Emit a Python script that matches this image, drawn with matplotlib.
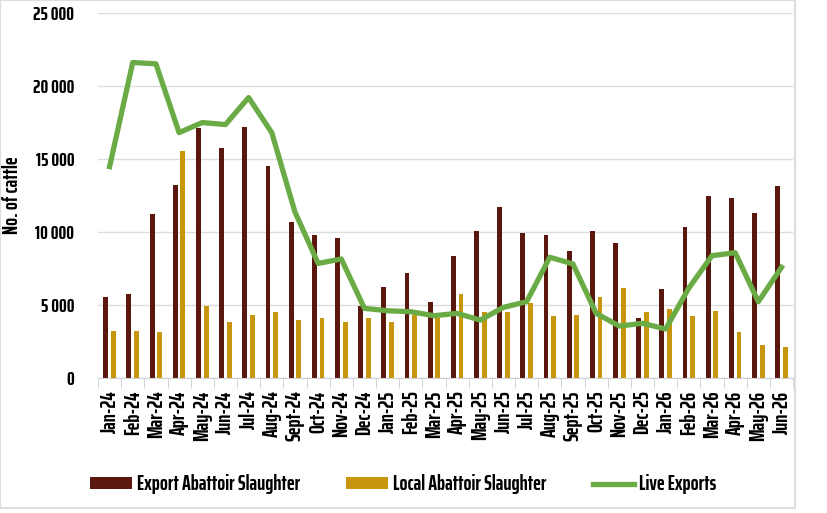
import matplotlib.pyplot as plt
import numpy as np
from matplotlib.patches import Rectangle
from matplotlib.ticker import FuncFormatter

plt.rcParams['font.family'] = ['Saira ExtraCondensed', 'Saira Condensed', 'Barlow Condensed',
                               'Roboto Condensed', 'Oswald', 'DejaVu Sans']
plt.rcParams['font.weight'] = 'bold'
plt.rcParams['axes.labelweight'] = 'bold'

months = ['Jan-24', 'Feb-24', 'Mar-24', 'Apr-24', 'May-24', 'Jun-24', 'Jul-24', 'Aug-24',
          'Sept-24', 'Oct-24', 'Nov-24', 'Dec-24', 'Jan-25', 'Feb-25', 'Mar-25', 'Apr-25',
          'May-25', 'Jun-25', 'Jul-25', 'Aug-25', 'Sept-25', 'Oct-25', 'Nov-25', 'Dec-25',
          'Jan-26', 'Feb-26', 'Mar-26', 'Apr-26', 'May-26', 'Jun-26']

export_abattoir = [5550, 5750, 11230, 13220, 17150, 15750, 17210, 14520, 10680, 9790,
                   9590, 4900, 6250, 7210, 5230, 8360, 10070, 11710, 9930, 9790,
                   8700, 10070, 9250, 4110, 6100, 10340, 12470, 12330, 11300, 13150]

local_abattoir = [3220, 3200, 3150, 15570, 4950, 3810, 4310, 4500, 3970, 4130,
                  3840, 4090, 3810, 4300, 4100, 5730, 4540, 4520, 5110, 4220,
                  4290, 5550, 6160, 4500, 4700, 4220, 4590, 3130, 2240, 2150]

live_exports = [14470, 21600, 21510, 16800, 17490, 17350, 19200, 16800, 11370, 7850,
                8150, 4770, 4610, 4540, 4270, 4430, 3970, 4840, 5230, 8270,
                7810, 4430, 3560, 3750, 3360, 6160, 8380, 8580, 5230, 7580]

x = np.arange(len(months))
w = 0.21

fig = plt.figure(figsize=(8.27, 5.13), dpi=100)
ax = fig.add_axes([0.1185, 0.263, 0.8405, 0.712])

b1 = ax.bar(x - w / 2 - 0.06, export_abattoir, w, color='#5a170d', zorder=2)
b2 = ax.bar(x + w / 2 + 0.06, local_abattoir, w, color='#c8960c', zorder=2)
l1, = ax.plot(x, live_exports, color='#6aab46', linewidth=3.8, zorder=3)

ax.set_xlim(-0.5, len(months) - 0.5)
ax.set_ylim(0, 25000)
ax.set_yticks(np.arange(0, 25001, 5000))
ax.yaxis.set_major_formatter(FuncFormatter(lambda v, p: '{:,}'.format(int(v)).replace(',', ' ')))
ax.grid(axis='y', color='#dcdcdc', linewidth=1)
ax.set_axisbelow(True)

ax.set_xticks(x)
ax.set_xticklabels(months, rotation=90, fontsize=15)
ax.set_xticks(np.arange(-0.5, len(months), 1), minor=True)
ax.tick_params(axis='x', which='major', length=0, pad=9)
ax.tick_params(axis='x', which='minor', length=7, color='#d0d0d0')
ax.tick_params(axis='y', length=0, labelsize=14, pad=17)

for s in ['top', 'right', 'left']:
    ax.spines[s].set_visible(False)
ax.spines['bottom'].set_color('#d0d0d0')

ax.set_ylabel('No. of cattle', fontsize=15, labelpad=8)

fig.legend([b1, b2, l1], ['Export Abattoir Slaughter', 'Local Abattoir Slaughter', 'Live Exports'],
           loc='lower center', bbox_to_anchor=(0.488, 0.0), ncol=3, frameon=False,
           fontsize=15, handlelength=2.0, handleheight=0.5, columnspacing=2.2, handletextpad=0.25)

fig.patches.append(Rectangle((0.0, 0.01), 0.961, 0.99, transform=fig.transFigure,
                             fill=False, edgecolor='#dddddd', linewidth=1.5))

fig.savefig('out.png', dpi=100)
